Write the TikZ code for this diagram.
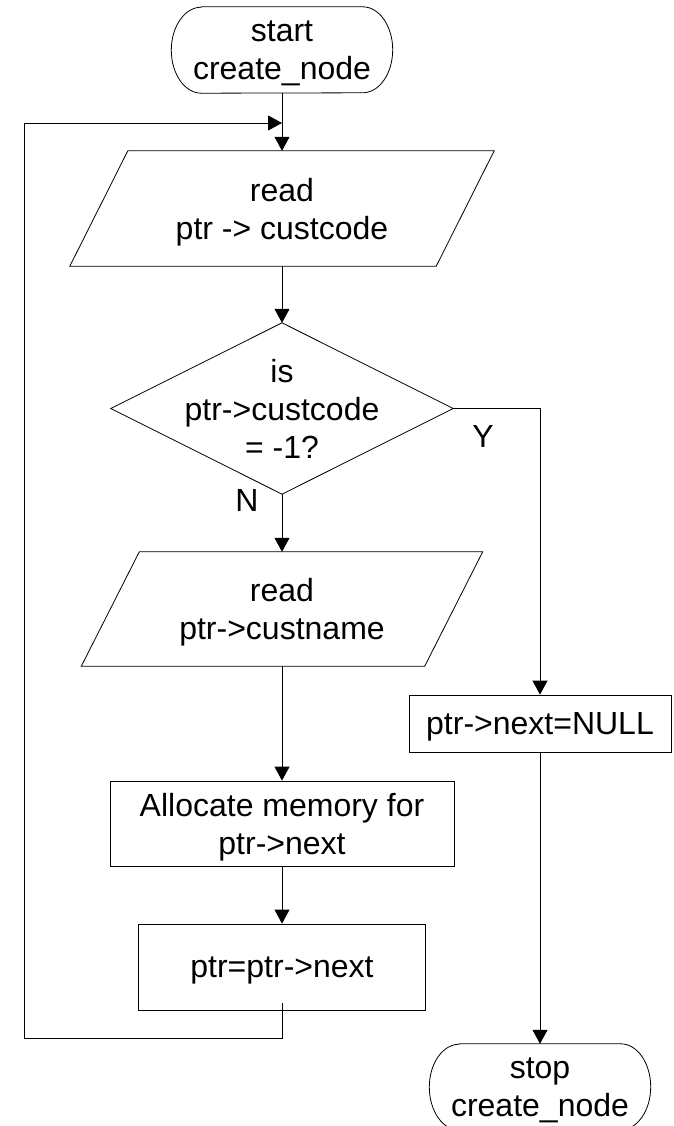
\documentclass[tikz,border=0pt]{standalone}
\usepackage{fontspec}
\setmainfont{Liberation Sans}
\usetikzlibrary{arrows.meta,calc}
\begin{document}
\begin{tikzpicture}[x=1pt,y=-1pt,
  every node/.style={font=\fontsize{32}{38}\selectfont, align=center, inner sep=0pt, text depth=0pt},
  ln/.style={line width=0.8pt},
  proc/.style={draw, ln},
  arr/.style={ln, -{Triangle[length=14pt,width=15pt]}}]
\useasboundingbox (0,0) rectangle (673,1126);

% nodes
\node (start) at (282,50) [minimum width=221pt, minimum height=86pt] {start\\create\_node};
\node (r1) at (282,208.5) [minimum width=366pt, minimum height=115pt] {read\\ptr -> custcode};
\node (dec) at (282,408.5) [minimum width=342pt, minimum height=171pt] {is\\ptr->custcode\\= -1?};
\node (r2) at (282,609) [minimum width=343pt, minimum height=114pt] {read\\ptr->custname};
\node[proc] (alloc) at (282,823.5) [minimum width=344pt, minimum height=85pt] {Allocate memory for\\ptr->next};
\node[proc] (pp) at (282,967) [minimum width=287pt, minimum height=86pt] {ptr=ptr->next};
\node[proc] (nul) at (540,723.5) [minimum width=262pt, minimum height=57pt] {ptr->next=NULL};
\node (stop) at (540,1087) [minimum width=221pt, minimum height=86pt] {stop\\create\_node};
\node (nlab) at (247,500) {N};
\node (ylab) at (483,436) {Y};

% outlines
\draw[ln] ([xshift=30pt]start.north west) -- ([xshift=-30pt]start.north east)
  arc[start angle=90, end angle=-90, x radius=30pt, y radius=43pt]
  -- ([xshift=30pt]start.south west)
  arc[start angle=270, end angle=90, x radius=30pt, y radius=43pt] -- cycle;
\draw[ln] ([xshift=30pt]stop.north west) -- ([xshift=-30pt]stop.north east)
  arc[start angle=90, end angle=-90, x radius=30pt, y radius=43pt]
  -- ([xshift=30pt]stop.south west)
  arc[start angle=270, end angle=90, x radius=30pt, y radius=43pt] -- cycle;
\draw[ln] ([xshift=29pt]r1.north west) -- ([xshift=29pt]r1.north east)
  -- ([xshift=-29pt]r1.south east) -- ([xshift=-29pt]r1.south west) -- cycle;
\draw[ln] ([xshift=29pt]r2.north west) -- ([xshift=29pt]r2.north east)
  -- ([xshift=-29pt]r2.south east) -- ([xshift=-29pt]r2.south west) -- cycle;
\draw[ln] (dec.north) -- (dec.east) -- (dec.south) -- (dec.west) -- cycle;

% connectors
\coordinate (lin) at (282,123);
\coordinate (lc) at (24.5,123);
\draw[arr] (start.south) -- (r1.north);
\draw[arr] (r1.south) -- (dec.north);
\draw[arr] (dec.south) -- (r2.north);
\draw[arr] (r2.south) -- (alloc.north);
\draw[arr] (alloc.south) -- (pp.north);
\draw[arr] (dec.east) -| (nul.north);
\draw[arr] (nul.south) -- (stop.north);
\draw[arr] ([yshift=7pt]pp.south) -- ++(0,35) -| (lc) -- (lin);
\end{tikzpicture}
\end{document}
